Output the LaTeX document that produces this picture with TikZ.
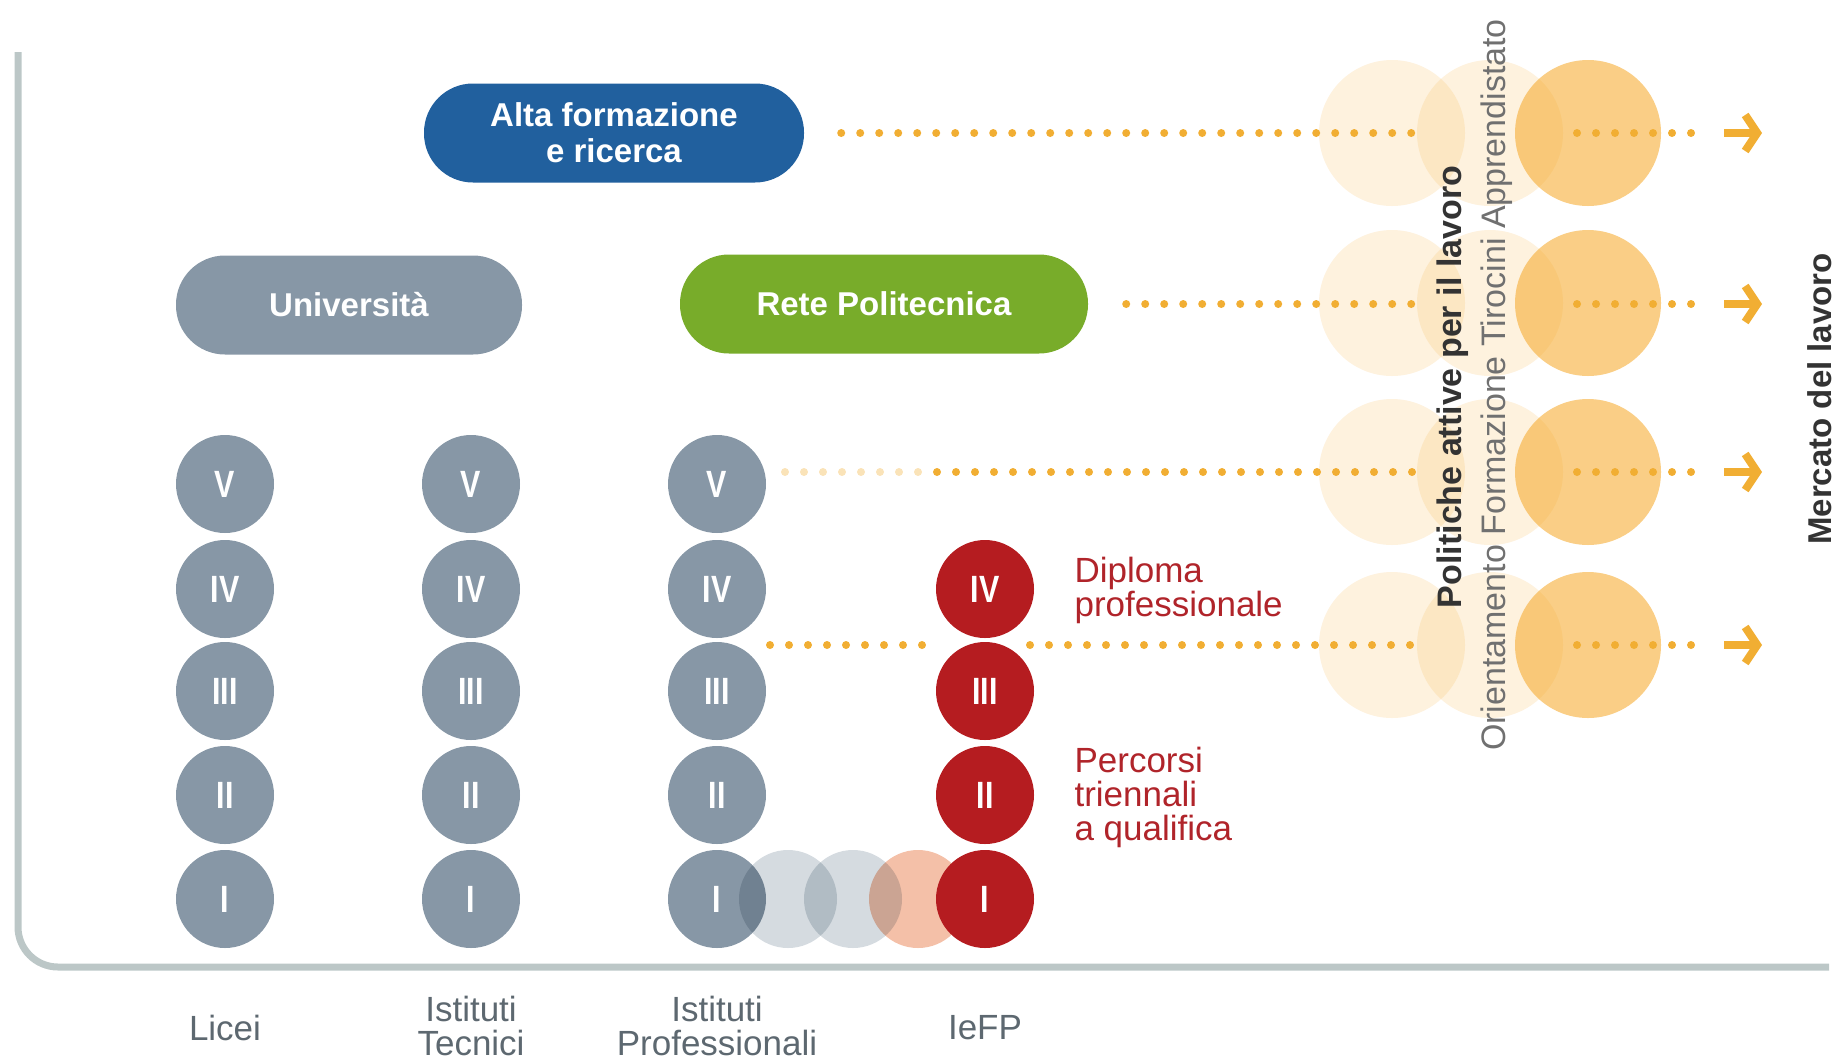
\documentclass[tikz,border=0pt]{standalone}
\usepackage{fontspec}
\setmainfont{Liberation Sans}
\newfontfamily\narrowfont[FakeStretch=0.8]{Liberation Sans}
\usetikzlibrary{arrows.meta}

\definecolor{framegray}{HTML}{BCC7C7}
\definecolor{schoolgray}{HTML}{8797A6}
\definecolor{ghostgray}{HTML}{D5DBE0}
\definecolor{ghostpink}{HTML}{F4C0A8}
\definecolor{iefpred}{HTML}{B51C20}
\definecolor{altablue}{HTML}{21609E}
\definecolor{retegreen}{HTML}{78AC2A}
\definecolor{haloorange}{HTML}{F5A623}
\definecolor{dotorange}{HTML}{F1AE33}
\definecolor{labelgray}{HTML}{5D6870}
\definecolor{notered}{HTML}{B0242A}
\definecolor{darktext}{HTML}{333333}
\definecolor{softtext}{HTML}{707070}

\tikzset{
    year/.style={circle, fill=schoolgray, minimum size=98pt, inner sep=0pt, text=white,
        font={\narrowfont\bfseries\fontsize{38}{40}\selectfont}},
    pill/.style={rounded corners=49pt, minimum height=99pt, inner sep=0pt, text=white,
        align=center, font={\bfseries\fontsize{33}{36}\selectfont}},
    dots/.style={dotorange, line width=8pt, line cap=round, dash pattern=on 0pt off 19pt},
    chev/.style={dotorange, line width=8pt, -{Straight Barb[length=12pt, width=36pt]}},
    schoollabel/.style={text=labelgray, align=center, font={\fontsize{35}{34}\selectfont}},
    note/.style={text=notered, align=left, anchor=west, font={\fontsize{35}{34}\selectfont}}
}

\begin{document}
\begin{tikzpicture}[x=1pt, y=-1pt]
    \useasboundingbox (0,0) rectangle (1838,1061);
    \draw[framegray, line width=7pt, rounded corners=40pt] (18,52) -- (18,967) -- (1829,967);

    \foreach \y in {133,303,472,645}{
        \fill[haloorange, fill opacity=0.15] (1392,\y) circle (73pt);
        \fill[haloorange, fill opacity=0.15] (1490,\y) circle (73pt);
        \fill[haloorange, fill opacity=0.55] (1588,\y) circle (73pt);
    }

    \node[pill, fill=altablue, minimum width=380pt] (alta) at (614,133) {Alta formazione\\e ricerca};
    \node[pill, fill=schoolgray, minimum width=346pt] (uni) at (349,305) {Università};
    \node[pill, fill=retegreen, minimum width=408pt] (rete) at (884,304) {Rete Politecnica};

    \foreach \col/\x in {lic/225, tec/471, pro/717}{
        \foreach \rom/\k/\y in {V/5/484, IV/4/589, III/3/691, II/2/795, I/1/899}{
            \node[year] (\col\k) at (\x,\y) {\rom};
        }
    }

    \begin{scope}[blend mode=multiply]
        \fill[ghostgray] (788,899) circle (49pt);
        \fill[ghostgray] (853,899) circle (49pt);
        \fill[ghostpink] (918,899) circle (49pt);
    \end{scope}

    \foreach \rom/\k/\y in {IV/4/589, III/3/691, II/2/795, I/1/899}{
        \node[year, fill=iefpred] (ief\k) at (985,\y) {\rom};
    }

    \foreach \r/\y in {1/133, 2/304, 3/472, 4/645}{
        \coordinate (gap\r) at (1427,\y);
        \coordinate (back\r) at (1577,\y);
        \coordinate (last\r) at (1710,\y);
        \coordinate (tail\r) at (1724,\y);
        \coordinate (tip\r) at (1762,\y);
        \draw[dots] (back\r) -- (last\r);
        \draw[chev] (tail\r) -- (tip\r);
    }
    \coordinate (fade3) at (785,472);
    \coordinate (pale3) at (925,472);
    \coordinate (full3) at (937,472);
    \coordinate (start4) at (770,645);
    \coordinate (stop4) at (925,645);
    \coordinate (resume4) at (1030,645);

    \draw[dots, shorten <=37pt] (alta) -- (gap1);
    \draw[dots, shorten <=38pt] (rete) -- (gap2);
    \draw[dots, draw opacity=0.35] (fade3) -- (pale3);
    \draw[dots] (full3) -- (gap3);
    \draw[dots] (start4) -- (stop4);
    \draw[dots] (resume4) -- (gap4);

    \node[note] (diploma) at (1071,590) {Diploma\\professionale};
    \node[note] (percorsi) at (1071,797) {Percorsi\\triennali\\a qualifica};

    \node[rotate=90, text=darktext, font={\bfseries\fontsize{34}{36}\selectfont}] (politiche) at (1453,387) {Politiche attive per il lavoro};
    \node[rotate=90, text=softtext, font={\fontsize{34}{36}\selectfont}] (strumenti) at (1497,385) {Orientamento Formazione Tirocini Apprendistato};
    \node[rotate=90, text=darktext, font={\bfseries\fontsize{33}{36}\selectfont}] (mercato) at (1820,399) {Mercato del lavoro};

    \node[schoollabel] (licei) at (225,1028) {Licei};
    \node[schoollabel] (tecnici) at (471,1026) {Istituti\\Tecnici};
    \node[schoollabel] (professionali) at (717,1026) {Istituti\\Professionali};
    \node[schoollabel] (iefp) at (985,1028) {IeFP};
\end{tikzpicture}
\end{document}
